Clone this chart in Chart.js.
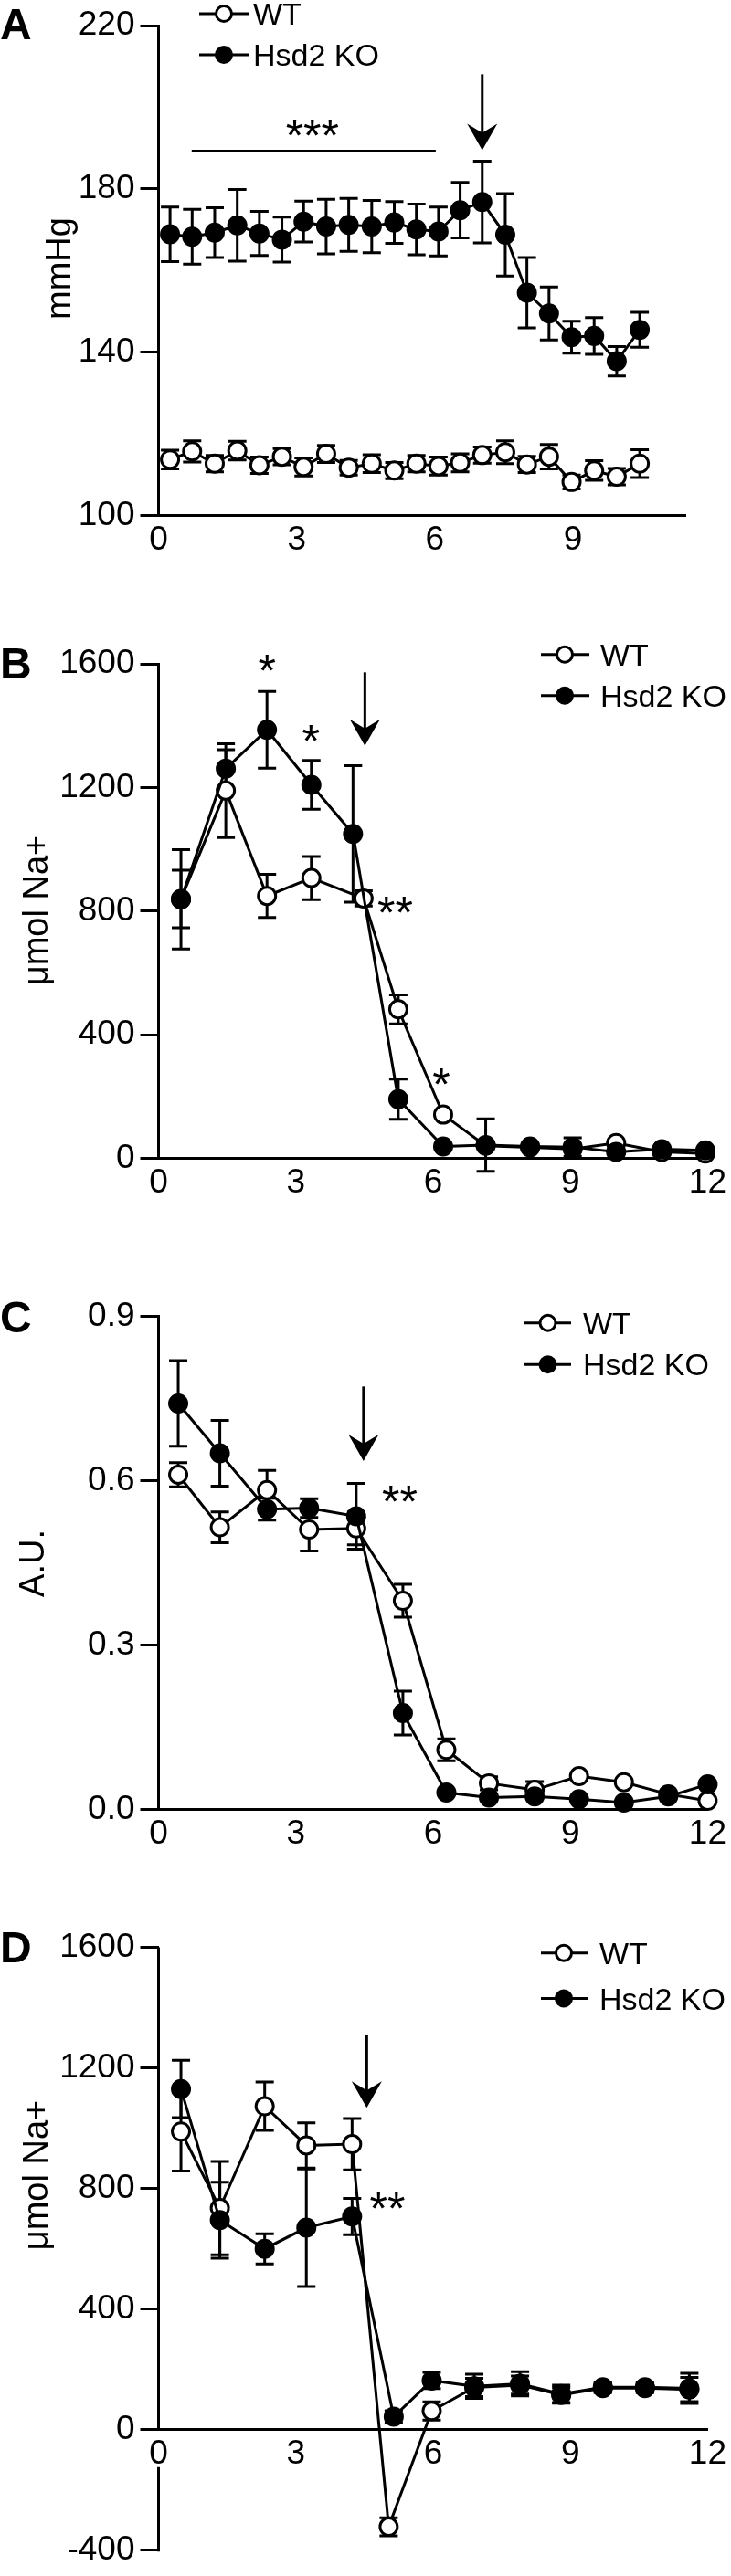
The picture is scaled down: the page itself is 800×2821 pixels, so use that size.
<!DOCTYPE html>
<html>
<head>
<meta charset="utf-8">
<script src="https://cdn.jsdelivr.net/npm/chart.js@4.4.1/dist/chart.umd.min.js"></script>
<style>
  html, body { margin: 0; padding: 0; background: #fff; }
  body { width: 800px; height: 2821px; position: relative; overflow: hidden; }
  .pane { position: absolute; left: 0; width: 800px; }
  canvas { display: block; }
</style>
</head>
<body>
<div class="pane" style="top:0px"><canvas id="cA"></canvas></div>
<div class="pane" style="top:640px"><canvas id="cB"></canvas></div>
<div class="pane" style="top:1360px"><canvas id="cC"></canvas></div>
<div class="pane" style="top:2050px"><canvas id="cD"></canvas></div>
<script>
// ---------------- DATA ----------------
const seriesNames = ['WT', 'Hsd2 KO'];

// Panel A : blood pressure (mmHg)
const yTicksA = [100, 140, 180, 220];
const xTicksA = [0, 3, 6, 9];
const xA     = [0.25, 0.73, 1.22, 1.71, 2.19, 2.68, 3.15, 3.64, 4.13, 4.63, 5.12, 5.6, 6.08, 6.55, 7.03, 7.53, 8.0, 8.48, 8.97, 9.46, 9.95, 10.45];
const koA    = [168.9, 168.3, 169.3, 171.1, 169.1, 167.6, 172.0, 170.8, 171.2, 170.8, 171.8, 170.1, 169.6, 174.8, 176.8, 168.8, 154.6, 149.5, 143.7, 144.0, 137.8, 145.5];
const koAErr = [6.7, 6.7, 6.1, 8.8, 5.4, 5.5, 5.0, 6.7, 6.5, 6.4, 5.1, 6.2, 6.0, 6.8, 10.0, 10.1, 8.6, 6.5, 3.9, 4.5, 3.6, 4.3];
const wtA    = [113.7, 115.7, 112.7, 115.9, 112.3, 114.4, 111.9, 115.1, 111.7, 112.7, 111.0, 112.7, 112.1, 112.9, 114.8, 115.5, 112.5, 114.4, 108.2, 111.0, 109.5, 112.7];
const wtAErr = [2.3, 2.6, 2.0, 2.3, 2.0, 2.0, 2.2, 2.1, 1.8, 2.2, 2.0, 2.0, 2.2, 2.2, 2.0, 2.8, 2.0, 3.0, 1.7, 2.4, 2.0, 3.4];

// Panel B : umol Na+
const yTicksB = [0, 400, 800, 1200, 1600];
const xTicksB = [0, 3, 6, 9, 12];
const xBKO    = [0.49, 1.47, 2.37, 3.34, 4.25, 5.24, 6.22, 7.15, 8.12, 9.05, 10.0, 11.0, 11.95];
const koB     = [838, 1261, 1387, 1209, 1050, 191, 38, 42, 38, 36, 20, 29, 25];
const koBErr  = [161, 62, 124, 79, 221, 65, 0, 85, 0, 30, 0, 0, 0];
const xBWT    = [0.49, 1.47, 2.37, 3.34, 4.48, 5.24, 6.22, 7.15, 8.12, 9.05, 10.0, 11.0, 11.95];
const wtB     = [839, 1190, 849, 907, 841, 482, 141, 40, 35, 30, 49, 20, 15];
const wtBErr  = [93, 152, 70, 70, 25, 47, 0, 0, 0, 0, 0, 0, 0];

// Panel C : A.U.
const yTicksC = [0.0, 0.3, 0.6, 0.9];
const xTicksC = [0, 3, 6, 9, 12];
const xC      = [0.43, 1.34, 2.37, 3.29, 4.32, 5.34, 6.29, 7.22, 8.22, 9.19, 10.17, 11.14, 12.0];
const koC     = [0.741, 0.650, 0.548, 0.550, 0.535, 0.176, 0.031, 0.022, 0.024, 0.019, 0.013, 0.024, 0.046];
const koCErr  = [0.078, 0.060, 0.020, 0.017, 0.060, 0.040, 0, 0, 0, 0, 0, 0, 0];
const wtC     = [0.611, 0.515, 0.583, 0.511, 0.513, 0.381, 0.109, 0.048, 0.036, 0.061, 0.050, 0.028, 0.016];
const wtCErr  = [0.022, 0.028, 0.036, 0.039, 0.030, 0.030, 0.020, 0.012, 0.015, 0, 0, 0, 0];

// Panel D : umol Na+
const yTicksD = [-400, 0, 400, 800, 1200, 1600];
const xTicksD = [0, 3, 6, 9, 12];
const xDKO    = [0.49, 1.34, 2.32, 3.23, 4.23, 5.14, 5.97, 6.9, 7.9, 8.8, 9.71, 10.63, 11.6];
const koD     = [1130, 695, 600, 670, 707, 43, 163, 144, 152, 118, 141, 141, 137];
const koDErr  = [95, 126, 50, 195, 60, 20, 27, 40, 40, 30, 15, 15, 50];
const xDWT    = [0.49, 1.34, 2.32, 3.23, 4.23, 5.03, 5.97, 6.9, 7.9, 8.8, 9.71, 10.63, 11.6];
const wtD     = [989, 735, 1073, 943, 947, -322, 62, 140, 148, 115, 138, 138, 133];
const wtDErr  = [131, 155, 80, 75, 85, 30, 30, 30, 30, 25, 15, 15, 40];

// ---------------- RENDERING ----------------
const FONT = '"Liberation Sans", Arial, Helvetica, sans-serif';
Chart.defaults.font.family = FONT;

const panels = [
  {
    id: 'cA', letter: 'A', canvasTop: 0, canvasH: 640, areaTop: 23.3, areaBottom: 564.5, right: 750,
    yTicks: yTicksA, yFmt: v => String(v), xTicks: xTicksA, xMax: 11.44,
    title: 'mmHg', titleX: 77, titleY: 294,
    letterY: 26,
    legend: { y1: 15, y2: 60, x1: 218, x2: 272, mx: 245, tx: 277 },
    wt: { x: xA, y: wtA, err: wtAErr }, ko: { x: xA, y: koA, err: koAErr },
    texts: [{ t: '***', x: 3.34, y: 195.5 }],
    bars: [{ x1: 0.72, x2: 6.02, y: 189.3 }],
    arrow: { x: 7.03, top: 208.1, tip: 189.5 }
  },
  {
    id: 'cB', letter: 'B', canvasTop: 640, canvasH: 720, areaTop: 727.2, areaBottom: 1268.3, right: 780,
    yTicks: yTicksB, yFmt: v => String(v), xTicks: xTicksB, xMax: 12,
    title: 'μmol Na+', titleX: 52, titleY: 997,
    letterY: 726,
    legend: { y1: 716.7, y2: 761.7, x1: 592, x2: 645, mx: 618, tx: 657 },
    wt: { x: xBWT, y: wtB, err: wtBErr }, ko: { x: xBKO, y: koB, err: koBErr },
    texts: [{ t: '*', x: 2.37, y: 1613 }, { t: '*', x: 3.33, y: 1385 }, { t: '**', x: 5.17, y: 828 }, { t: '*', x: 6.18, y: 273 }],
    bars: [],
    arrow: { x: 4.51, top: 1573, tip: 1335 }
  },
  {
    id: 'cC', letter: 'C', canvasTop: 1360, canvasH: 690, areaTop: 1441.5, areaBottom: 1981.7, right: 780,
    yTicks: yTicksC, yFmt: v => Number(v).toFixed(1), xTicks: xTicksC, xMax: 12,
    title: 'A.U.', titleX: 48, titleY: 1712,
    letterY: 1442,
    legend: { y1: 1448.7, y2: 1494.2, x1: 574, x2: 625, mx: 599.5, tx: 638 },
    wt: { x: xC, y: wtC, err: wtCErr }, ko: { x: xC, y: koC, err: koCErr },
    texts: [{ t: '**', x: 5.27, y: 0.580 }],
    bars: [],
    arrow: { x: 4.48, top: 0.772, tip: 0.636 }
  },
  {
    id: 'cD', letter: 'D', canvasTop: 2050, canvasH: 771, areaTop: 2132.5, areaBottom: 2806.3, right: 780,
    yTicks: yTicksD, yFmt: v => String(v), xTicks: xTicksD, xMax: 12, xAtZero: true,
    title: 'μmol Na+', titleX: 52, titleY: 2382,
    letterY: 2132,
    legend: { y1: 2138.7, y2: 2188.5, x1: 592, x2: 643, mx: 617, tx: 656 },
    wt: { x: xDWT, y: wtD, err: wtDErr }, ko: { x: xDKO, y: koD, err: koDErr },
    texts: [{ t: '**', x: 5.0, y: 767 }],
    bars: [],
    arrow: { x: 4.55, top: 1310, tip: 1068 }
  }
];

const TICK_SIZE = 37, TITLE_SIZE = 38, LEGEND_SIZE = 34, LETTER_SIZE = 48, STAR_SIZE = 50;
const X_AXIS_H = 60;

function drawCircle(ctx, x, y, r, filled) {
  ctx.beginPath();
  ctx.arc(x, y, r, 0, Math.PI * 2);
  ctx.fillStyle = filled ? '#000' : '#fff';
  ctx.fill();
  ctx.lineWidth = 3;
  ctx.strokeStyle = '#000';
  ctx.stroke();
}

function makePanel(p) {
  const canvas = document.getElementById(p.id);
  canvas.width = 800;
  canvas.height = p.canvasH;
  canvas.style.width = '800px';
  canvas.style.height = p.canvasH + 'px';
  const off = p.canvasTop;
  const padTop = p.areaTop - off;
  const padBottom = p.xAtZero ? (p.canvasH - (p.areaBottom - off)) : (p.canvasH - (p.areaBottom - off) - X_AXIS_H);

  const mk = (s, filled, label) => ({
    label: label,
    data: s.x.map((xv, i) => ({ x: xv, y: s.y[i] })),
    borderColor: '#000',
    borderWidth: 3,
    backgroundColor: filled ? '#000' : '#fff',
    pointRadius: 9.5,
    pointHoverRadius: 9.5,
    pointBorderWidth: 3,
    pointBackgroundColor: filled ? '#000' : '#fff',
    pointBorderColor: '#000',
    fill: false,
    tension: 0,
    clip: false,
    order: filled ? 0 : 1
  });

  const decoPlugin = {
    id: 'deco' + p.letter,
    beforeDatasetsDraw(chart) {
      const ctx = chart.ctx, xs = chart.scales.x, ys = chart.scales.y;
      ctx.save();
      ctx.strokeStyle = '#000';
      ctx.lineWidth = 3;
      ctx.lineCap = 'butt';
      if (p.xAtZero) {
        const X = chart.chartArea.left;
        const Y0 = ys.getPixelForValue(0);
        ctx.beginPath();
        ctx.moveTo(X, chart.chartArea.top);
        ctx.lineTo(X, Y0);
        ctx.moveTo(X, Y0 + 41);
        ctx.lineTo(X, chart.chartArea.bottom + 1.5);
        ctx.stroke();
      }
      [p.wt, p.ko].forEach(s => {
        s.x.forEach((xv, i) => {
          const e = s.err[i];
          if (!e) return;
          const X = xs.getPixelForValue(xv);
          const Y1 = ys.getPixelForValue(s.y[i] + e);
          const Y2 = ys.getPixelForValue(s.y[i] - e);
          ctx.beginPath();
          ctx.moveTo(X, Y1); ctx.lineTo(X, Y2);
          ctx.moveTo(X - 10, Y1); ctx.lineTo(X + 10, Y1);
          ctx.moveTo(X - 10, Y2); ctx.lineTo(X + 10, Y2);
          ctx.stroke();
        });
      });
      ctx.restore();
    },
    afterDraw(chart) {
      const ctx = chart.ctx, xs = chart.scales.x, ys = chart.scales.y;
      ctx.save();
      ctx.fillStyle = '#000';
      ctx.strokeStyle = '#000';
      ctx.font = 'bold ' + LETTER_SIZE + 'px ' + FONT;
      ctx.textAlign = 'left';
      ctx.textBaseline = 'alphabetic';
      ctx.fillText(p.letter, 0, p.letterY - off + 0.358 * LETTER_SIZE);
      ctx.save();
      ctx.translate(p.titleX, p.titleY - off);
      ctx.rotate(-Math.PI / 2);
      ctx.font = TITLE_SIZE + 'px ' + FONT;
      ctx.textAlign = 'center';
      ctx.textBaseline = 'alphabetic';
      ctx.fillStyle = '#000';
      ctx.fillText(p.title, 0, 0);
      ctx.restore();
      const L = p.legend;
      [[seriesNames[0], false, L.y1], [seriesNames[1], true, L.y2]].forEach(([name, filled, y]) => {
        const yy = y - off;
        ctx.lineWidth = 3;
        ctx.beginPath();
        ctx.moveTo(L.x1, yy); ctx.lineTo(L.x2, yy);
        ctx.stroke();
        drawCircle(ctx, L.mx, yy, 8.5, filled);
        ctx.fillStyle = '#000';
        ctx.font = LEGEND_SIZE + 'px ' + FONT;
        ctx.textAlign = 'left';
        ctx.textBaseline = 'alphabetic';
        ctx.fillText(name, L.tx, yy + 0.358 * LEGEND_SIZE);
      });
      p.bars.forEach(b => {
        ctx.lineWidth = 3;
        ctx.beginPath();
        ctx.moveTo(xs.getPixelForValue(b.x1), ys.getPixelForValue(b.y));
        ctx.lineTo(xs.getPixelForValue(b.x2), ys.getPixelForValue(b.y));
        ctx.stroke();
      });
      ctx.font = STAR_SIZE + 'px ' + FONT;
      ctx.textAlign = 'center';
      ctx.textBaseline = 'alphabetic';
      ctx.fillStyle = '#000';
      p.texts.forEach(t => {
        ctx.fillText(t.t, xs.getPixelForValue(t.x), ys.getPixelForValue(t.y) + 0.575 * STAR_SIZE);
      });
      const a = p.arrow;
      const X = xs.getPixelForValue(a.x);
      const Yt = ys.getPixelForValue(a.top);
      const Yp = ys.getPixelForValue(a.tip);
      ctx.lineWidth = 3;
      ctx.beginPath();
      ctx.moveTo(X, Yt); ctx.lineTo(X, Yp - 18);
      ctx.stroke();
      ctx.beginPath();
      ctx.moveTo(X, Yp);
      ctx.lineTo(X - 16.5, Yp - 29);
      ctx.lineTo(X, Yp - 19);
      ctx.lineTo(X + 16.5, Yp - 29);
      ctx.closePath();
      ctx.fill();
      ctx.restore();
    }
  };

  const yMin = p.yTicks[0], yMax = p.yTicks[p.yTicks.length - 1];
  const yStep = p.yTicks[1] - p.yTicks[0];
  const xStep = p.xTicks[1] - p.xTicks[0];

  return new Chart(canvas.getContext('2d'), {
    type: 'line',
    data: { datasets: [mk(p.wt, false, seriesNames[0]), mk(p.ko, true, seriesNames[1])] },
    options: {
      responsive: false,
      animation: false,
      events: [],
      devicePixelRatio: 1,
      layout: { autoPadding: false, padding: { left: 0, right: 800 - p.right, top: padTop, bottom: padBottom } },
      plugins: { legend: { display: false }, tooltip: { enabled: false }, title: { display: false } },
      scales: {
        x: {
          type: 'linear',
          position: p.xAtZero ? { y: 0 } : 'bottom',
          min: 0, max: p.xMax,
          afterFit: s => { s.height = X_AXIS_H; },
          grid: { display: false, drawTicks: false },
          border: { display: true, color: '#000', width: 3 },
          ticks: {
            stepSize: xStep, includeBounds: false, autoSkip: false, maxRotation: 0, minRotation: 0,
            color: '#000', font: { family: FONT, size: TICK_SIZE }, padding: 5,
            callback: v => (p.xTicks.includes(v) ? String(v) : '')
          }
        },
        y: {
          type: 'linear',
          position: 'left',
          min: yMin, max: yMax,
          afterFit: s => { s.width = 173.5; },
          grid: { display: true, drawOnChartArea: false, drawTicks: true, tickLength: 20, color: '#000', lineWidth: 3 },
          border: { display: !p.xAtZero, color: '#000', width: 3 },
          ticks: {
            stepSize: yStep, autoSkip: false, color: '#000',
            font: { family: FONT, size: TICK_SIZE }, padding: 6,
            callback: v => p.yFmt(v)
          }
        }
      }
    },
    plugins: [decoPlugin]
  });
}

panels.forEach(makePanel);
</script>
</body>
</html>
